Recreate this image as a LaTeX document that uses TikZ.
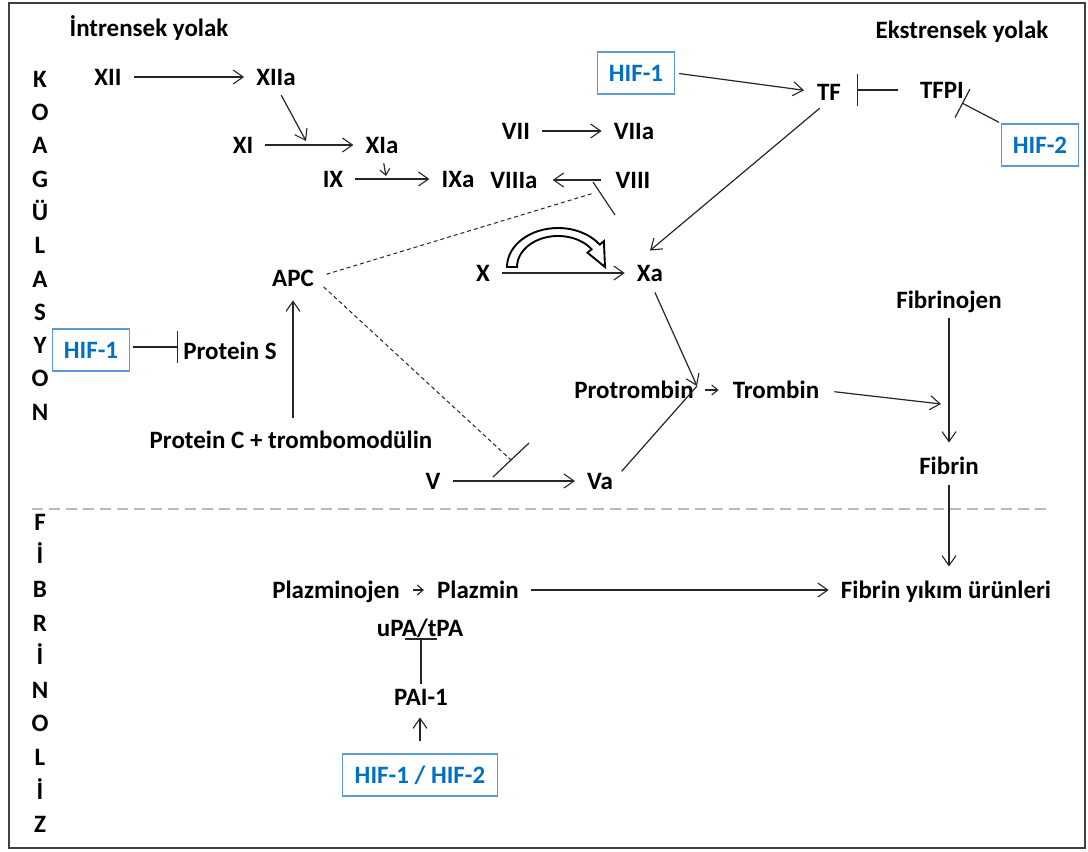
\documentclass[tikz,border=0pt]{standalone}
\usepackage{fontspec}
\setmainfont{Carlito}
\usetikzlibrary{arrows.meta}
\definecolor{hifblue}{HTML}{0070C0}
\definecolor{boxblue}{HTML}{5B9BD5}
\begin{document}
\begin{tikzpicture}[x=1pt,y=-1pt,
  lbl/.style={font=\bfseries\fontsize{25}{29}\selectfont, inner sep=0pt, text height=16.5pt, text depth=0pt},
  hifbox/.style={lbl, draw=boxblue, line width=1.5pt, text=hifblue, minimum height=42pt},
  ln/.style={line width=1.2pt, black!85},
  arr/.style={ln, -{Straight Barb[length=10pt,width=14pt,line width=1.1pt]}, shorten <=12pt, shorten >=12pt},
  sarr/.style={ln, -{Straight Barb[length=6pt,width=10pt,line width=1.1pt]}, shorten <=11pt, shorten >=14pt},
  inh/.style={ln, -{Bar[width=32pt,line width=1.2pt]}},
  dsh/.style={line width=1pt, black!85, dash pattern=on 4pt off 3pt}]
\useasboundingbox (0,0) rectangle (1088,852);
\fill[white] (0,0) rectangle (1088,852);
% frame and separator
\draw[line width=2pt, black!75] (9,3) rectangle (1085,848);
\draw[gray!55, line width=1.8pt, dash pattern=on 11pt off 6pt] (32,509) -- (1048,509);
% side letters
\foreach \l [count=\i] in {K,O,A,G,Ü,L,A,S,Y,O,N}
  \node[lbl] (k\i) at (40,{79+33.3*(\i-1)}) {\l};
\foreach \l [count=\i] in {F,İ,B,R,İ,N,O,L,İ,Z}
  \node[lbl] (f\i) at (40,{522+33.6*(\i-1)}) {\l};
% titles
\node[lbl] (intr) at (149,28) {İntrensek yolak};
\node[lbl] (ekst) at (962,30) {Ekstrensek yolak};
% nodes
\node[lbl] (xii) at (108,77) {XII};
\node[lbl] (xiia) at (276,77) {XIIa};
\node[lbl] (xi) at (243,145) {XI};
\node[lbl] (xia) at (382,145) {XIa};
\node[lbl] (ix) at (333,179) {IX};
\node[lbl] (ixa) at (458,179) {IXa};
\node[lbl] (viiia) at (514,180) {VIIIa};
\node[lbl] (viii) at (633,180) {VIII};
\node[lbl] (vii) at (516,131) {VII};
\node[lbl] (viia) at (634,131) {VIIa};
\node[lbl] (x) at (483,273) {X};
\node[lbl] (xa) at (650,273) {Xa};
\node[lbl] (apc) at (293,278) {APC};
\node[lbl] (ps) at (230,351) {Protein S};
\node[lbl] (pc) at (291,440) {Protein C + trombomodülin};
\node[lbl] (v) at (433,481) {V};
\node[lbl] (va) at (600,481) {Va};
\node[lbl] (ptr) at (634,390) {Protrombin};
\node[lbl] (tr) at (776,390) {Trombin};
\node[lbl] (fgn) at (949,300) {Fibrinojen};
\node[lbl] (fib) at (949,466) {Fibrin};
\node[lbl] (tf) at (829,92) {TF};
\node[lbl] (tfpi) at (942,90) {TFPI};
\node[lbl] (plg) at (336,590) {Plazminojen};
\node[lbl] (pl) at (478,590) {Plazmin};
\node[lbl] (fyu) at (946,590) {Fibrin yıkım ürünleri};
\node[lbl] (upa) at (420,628) {uPA/tPA};
\node[lbl] (pai) at (421,697) {PAI-1};
\node[hifbox, minimum width=77pt] (hifl) at (91,350) {HIF-1};
\node[hifbox, minimum width=77pt] (hift) at (636,73) {HIF-1};
\node[hifbox, minimum width=77pt] (hif2) at (1040,145) {HIF-2};
\node[hifbox, minimum width=155pt] (hifb) at (420,775) {HIF-1 / HIF-2};
% coordinates for free ends
\coordinate (j1) at (306,141);
\coordinate (j2) at (386,176);
\coordinate (b1) at (594,193);
\coordinate (b1a) at (593,182);
\coordinate (b1b) at (615,215);
\coordinate (b2) at (511,460);
\coordinate (b2a) at (493,477);
\coordinate (b2b) at (529,443);
\coordinate (b3) at (962,103);
\coordinate (jp) at (697,386);
\coordinate (jf) at (941,404);
% intrinsic
\draw[arr] (xii) -- (xiia);
\draw[arr] (xi) -- (xia);
\draw[arr] (ix) -- (ixa);
\draw[arr, shorten <=14pt, shorten >=15pt] (viii) -- (viiia);
\draw[arr] (vii) -- (viia);
\draw[arr, shorten >=0pt, shorten <=11pt] (xiia.south) -- (j1);
\draw[sarr, shorten >=0pt, shorten <=10pt] (xia.south) -- (j2);
% X -> Xa and hollow arc arrow
\draw[arr] (x) -- (xa);
\draw[line width=1.9pt, fill=white] (507,267) arc[start angle=180,end angle=325,x radius=51,y radius=39]
  -- (603.9,241.2) -- (605,267) -- (587.5,252.7) -- (591.6,249.2)
  arc[start angle=325,end angle=180,x radius=41,y radius=31] -- cycle;
% APC
\draw[dsh, shorten <=13pt] (apc.east) -- (b1);
\draw[ln] (b1a) -- (b1b);
\draw[dsh, shorten <=13pt] (apc.east) -- (b2);
\draw[ln] (b2a) -- (b2b);
\draw[arr, shorten <=14pt, shorten >=14pt] (apc.south |- pc.north) -- (apc.south);
\draw[inh, shorten <=3pt, shorten >=5pt] ([yshift=3pt]hifl.east) -- ([yshift=3pt]hifl.east -| ps.west);
% V
\draw[arr] (v) -- (va);
% extrinsic
\draw[arr, shorten <=4pt, shorten >=13pt] (hift.east) -- (tf.west);
\draw[inh, shorten <=22pt, shorten >=16pt] (tfpi.west) -- (tfpi.west -| tf.east);
\draw[inh, shorten <=2pt] (hif2.north west) -- (b3);
\draw[arr, shorten <=12pt, shorten >=0pt] (tf.south) -- ([yshift=14pt]xa.north);
% common pathway
\draw[arr, shorten <=12pt, shorten >=0pt] (xa.south) -- (jp);
\draw[ln, shorten <=13pt] (va.east) -- (jp);
\draw[sarr] (ptr) -- (tr);
\draw[arr, shorten <=15pt, shorten >=0pt] (tr.east) -- (jf);
\draw[arr, shorten <=10pt, shorten >=15pt] (fgn.south) -- (fib.north);
\draw[arr, shorten <=11pt, shorten >=15pt] (fib.south) -- (fib.south |- fyu.north);
% fibrinolysis
\draw[sarr, shorten <=13pt, shorten >=13pt] (plg) -- (pl);
\draw[arr] (pl) -- (fyu);
\draw[inh, shorten <=5pt, shorten >=2pt] (pai.north) -- (pai.north |- upa.south);
\draw[arr, shorten >=12pt] (hifb.north) -- (hifb.north |- pai.south);
\end{tikzpicture}
\end{document}
